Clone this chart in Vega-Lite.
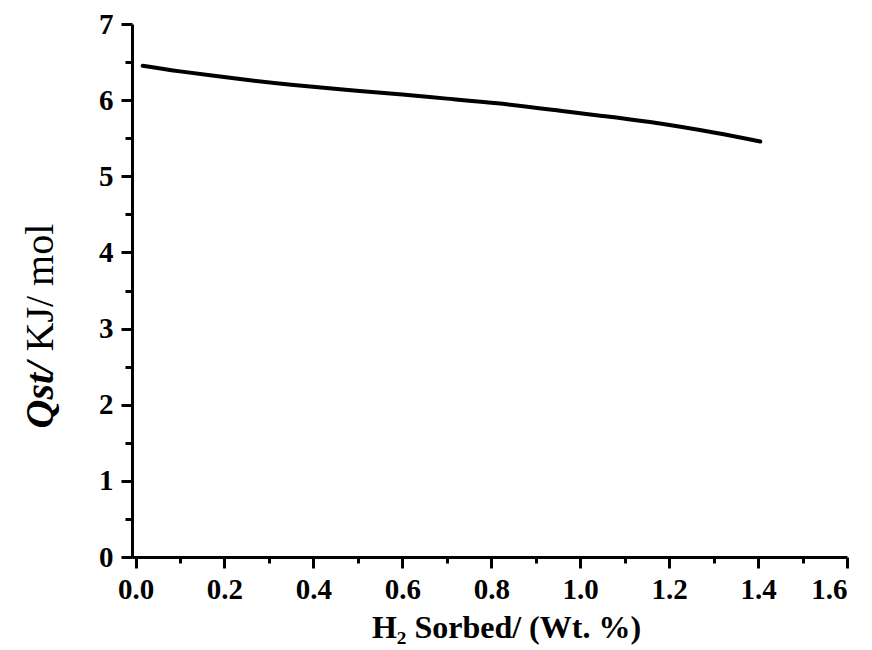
{
  "$schema": "https://vega.github.io/schema/vega-lite/v6.json",
  "width": 715,
  "height": 533,
  "autosize": {"type": "none"},
  "padding": {"left": 132, "top": 24, "right": 25, "bottom": 93},
  "background": "white",
  "config": {
    "view": {"stroke": null},
    "axis": {
      "grid": false,
      "domainColor": "black",
      "domainWidth": 3,
      "tickColor": "black",
      "tickWidth": 3,
      "labelFont": "Liberation Serif",
      "labelFontWeight": "bold",
      "labelFontSize": 29,
      "labelColor": "black",
      "titleColor": "black",
      "titleFont": "Liberation Serif"
    }
  },
  "data": {
    "values": [
      {"x": 0.016, "y": 6.452},
      {"x": 0.1, "y": 6.378},
      {"x": 0.235, "y": 6.277},
      {"x": 0.35, "y": 6.203},
      {"x": 0.472, "y": 6.137},
      {"x": 0.6, "y": 6.073},
      {"x": 0.7, "y": 6.02},
      {"x": 0.82, "y": 5.955},
      {"x": 0.955, "y": 5.86},
      {"x": 1.05, "y": 5.793},
      {"x": 1.157, "y": 5.712},
      {"x": 1.3, "y": 5.575},
      {"x": 1.405, "y": 5.457}
    ]
  },
  "resolve": {"axis": {"x": "independent", "y": "independent"}},
  "layer": [
    {
      "mark": {"type": "line", "color": "black", "strokeWidth": 4, "interpolate": "natural", "strokeCap": "round"},
      "encoding": {
        "x": {
          "field": "x", "type": "quantitative",
          "scale": {"domain": [-0.008, 1.6], "nice": false, "zero": false},
          "axis": {
            "orient": "bottom",
            "values": [0, 0.2, 0.4, 0.6, 0.8, 1.0, 1.2, 1.4, 1.6],
            "format": ".1f",
            "tickSize": 11,
            "labelPadding": 7,
            "title": "H₂ Sorbed/ (Wt. %)",
            "titleFontSize": 32,
            "titleFontWeight": "bold",
            "titleX": 374,
            "titleY": 80,
            "titleAlign": "center",
            "titleBaseline": "alphabetic"
          }
        },
        "y": {
          "field": "y", "type": "quantitative",
          "scale": {"domain": [0, 7], "nice": false},
          "axis": {
            "orient": "left",
            "values": [0, 1, 2, 3, 4, 5, 6, 7],
            "format": "d",
            "tickSize": 11,
            "labelPadding": 8,
            "title": "KJ/ mol",
            "titleFontSize": 40,
            "titleFontWeight": "normal",
            "titleAngle": -90,
            "titleX": -80,
            "titleY": 327,
            "titleAlign": "left",
            "titleBaseline": "alphabetic"
          }
        }
      }
    },
    {
      "mark": {"type": "line", "strokeOpacity": 0},
      "encoding": {
        "x": {
          "field": "x", "type": "quantitative",
          "axis": {
            "orient": "bottom",
            "values": [0.1, 0.3, 0.5, 0.7, 0.9, 1.1, 1.3, 1.5],
            "tickSize": 6,
            "labels": false,
            "domain": false,
            "title": null
          }
        },
        "y": {
          "field": "y", "type": "quantitative",
          "axis": {
            "orient": "left",
            "values": [0.5, 1.5, 2.5, 3.5, 4.5, 5.5, 6.5],
            "tickSize": 7,
            "labels": false,
            "domain": false,
            "title": "Qst/",
            "titleFontSize": 40,
            "titleFontWeight": "bold",
            "titleFontStyle": "italic",
            "titleAngle": -90,
            "titleX": -80,
            "titleY": 404,
            "titleAlign": "left",
            "titleBaseline": "alphabetic"
          }
        }
      }
    }
  ]
}
